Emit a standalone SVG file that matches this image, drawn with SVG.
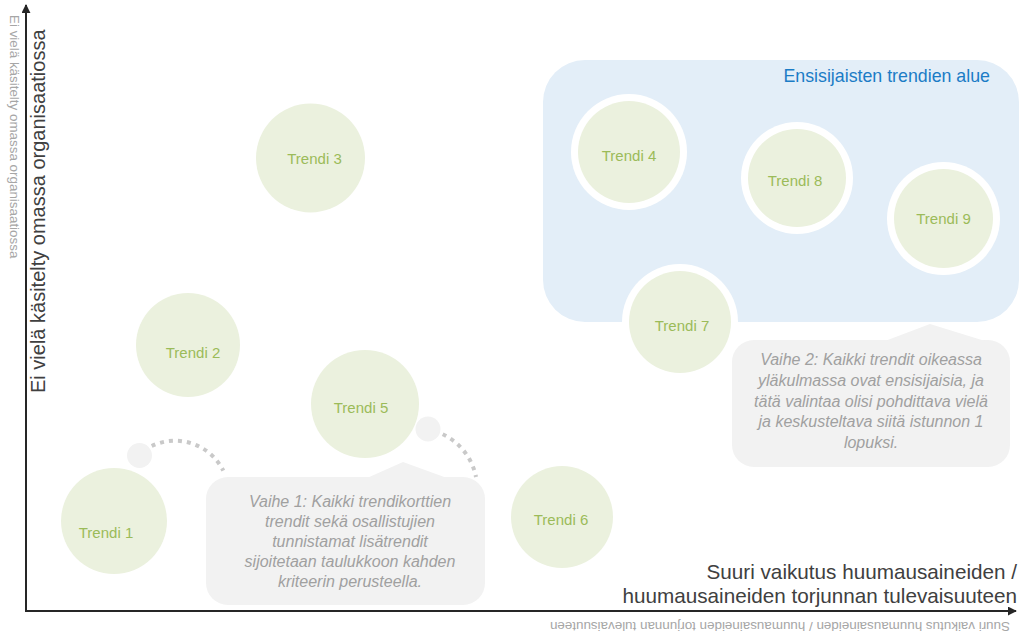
<svg xmlns="http://www.w3.org/2000/svg" width="1019" height="637" viewBox="0 0 1019 637">
<style>
.trend{fill:#EBF1DE}
.ring{fill:#FFFFFF}
.tlabel{font-family:"Liberation Sans",Arial,sans-serif;font-size:15px;fill:#9BBB59;text-anchor:middle}
.callout{fill:#F2F2F2}
.ctext{font-family:"Liberation Sans",Arial,sans-serif;font-size:16px;font-style:italic;fill:#A0A0A0;text-anchor:middle}
.axis{stroke:#262626;stroke-width:2;fill:none}
.dots{stroke:#C9C9C9;stroke-width:4;stroke-dasharray:4 5;fill:none}
.axlabel{font-family:"Liberation Sans",Arial,sans-serif;fill:#404040}
.ghost{font-family:"Liberation Sans",Arial,sans-serif;font-size:13.4px;fill:#A6A6A6}
</style>
<defs>
<marker id="arrow" viewBox="0 0 10 10" refX="9" refY="5" markerWidth="4.5" markerHeight="4.5" orient="auto" markerUnits="strokeWidth">
<path d="M0,0 L10,5 L0,10 Z" fill="#262626"/>
</marker>
</defs>
<rect width="1019" height="637" fill="#FFFFFF"/>

<g id="priority-area">
<rect x="543" y="60" width="476" height="262" rx="42" fill="#E3EEF8"/>
<text x="990" y="82" font-family="'Liberation Sans',Arial,sans-serif" font-size="17.8" fill="#1B7CC6" text-anchor="end">Ensisijaisten trendien alue</text>
</g>

<g id="connectors">
<line class="axis" x1="26" y1="612" x2="26" y2="5" marker-end="url(#arrow)"/>
<line class="axis" x1="25" y1="611" x2="1016" y2="611" marker-end="url(#arrow)"/>
<path class="dots" d="M151.7,446 A54,54 0 0,1 223.3,470.7"/>
<path class="dots" d="M442.7,434.3 A60,60 0 0,1 476,477"/>
</g>

<g id="bubble-1">
<circle class="callout" cx="139.5" cy="455.5" r="12.5"/>
</g>
<g id="bubble-2">
<circle class="callout" cx="428" cy="429" r="12.5"/>
</g>

<g id="trendi-1">
<circle class="trend" cx="114" cy="521" r="53"/>
<text class="tlabel" x="106" y="538">Trendi 1</text>
</g>
<g id="trendi-2">
<circle class="trend" cx="188" cy="345" r="52"/>
<text class="tlabel" x="193" y="358">Trendi 2</text>
</g>
<g id="trendi-3">
<circle class="trend" cx="310.5" cy="158" r="54.5"/>
<text class="tlabel" x="314.5" y="164">Trendi 3</text>
</g>
<g id="trendi-5">
<circle class="trend" cx="365" cy="404" r="54"/>
<text class="tlabel" x="361" y="413">Trendi 5</text>
</g>
<g id="trendi-6">
<circle class="trend" cx="562" cy="517" r="51"/>
<text class="tlabel" x="561" y="525">Trendi 6</text>
</g>
<g id="trendi-4">
<circle class="ring" cx="629" cy="152" r="58"/>
<circle class="trend" cx="629" cy="152" r="51"/>
<text class="tlabel" x="629" y="161">Trendi 4</text>
</g>
<g id="trendi-8">
<circle class="ring" cx="797" cy="178" r="56"/>
<circle class="trend" cx="797" cy="178" r="49"/>
<text class="tlabel" x="795" y="186">Trendi 8</text>
</g>
<g id="trendi-9">
<circle class="ring" cx="943.5" cy="218.5" r="56.5"/>
<circle class="trend" cx="943.5" cy="218.5" r="49.5"/>
<text class="tlabel" x="943.5" y="224">Trendi 9</text>
</g>
<g id="trendi-7">
<circle class="ring" cx="680" cy="322" r="58"/>
<circle class="trend" cx="680" cy="322" r="51"/>
<text class="tlabel" x="682" y="331">Trendi 7</text>
</g>

<g id="vaihe-1">
<rect class="callout" x="206" y="477" width="279" height="128" rx="22"/>
<polygon class="callout" points="367,478 403,462 447,478"/>
<text class="ctext" x="350" y="507">Vaihe 1: Kaikki trendikorttien</text>
<text class="ctext" x="350" y="527">trendit sekä osallistujien</text>
<text class="ctext" x="350" y="547">tunnistamat lisätrendit</text>
<text class="ctext" x="350" y="567">sijoitetaan taulukkoon kahden</text>
<text class="ctext" x="350" y="587">kriteerin perusteella.</text>
</g>

<g id="vaihe-2">
<rect class="callout" x="732" y="340" width="278" height="127" rx="22"/>
<polygon class="callout" points="885,341 930,324 985,341"/>
<text class="ctext" x="871" y="365">Vaihe 2: Kaikki trendit oikeassa</text>
<text class="ctext" x="871" y="386">yläkulmassa ovat ensisijaisia, ja</text>
<text class="ctext" x="871" y="407">tätä valintaa olisi pohdittava vielä</text>
<text class="ctext" x="871" y="427">ja keskusteltava siitä istunnon 1</text>
<text class="ctext" x="871" y="448">lopuksi.</text>
</g>

<g id="y-axis-label">
<text class="axlabel" font-size="20" x="45" y="393" transform="rotate(-90 45 393)">Ei vielä käsitelty omassa organisaatiossa</text>
<text class="ghost" x="9.5" y="15" transform="rotate(90 9.5 15)">Ei vielä käsitelty omassa organisaatiossa</text>
</g>

<g id="x-axis-label">
<text class="axlabel" font-size="20.7" text-anchor="end" x="1017" y="579">Suuri vaikutus huumausaineiden /</text>
<text class="axlabel" font-size="20.7" text-anchor="end" x="1017" y="603">huumausaineiden torjunnan tulevaisuuteen</text>
<text class="ghost" x="1010" y="622" transform="rotate(180 1010 622)">Suuri vaikutus huumausaineiden / huumausaineiden torjunnan tulevaisuuteen</text>
</g>
</svg>
